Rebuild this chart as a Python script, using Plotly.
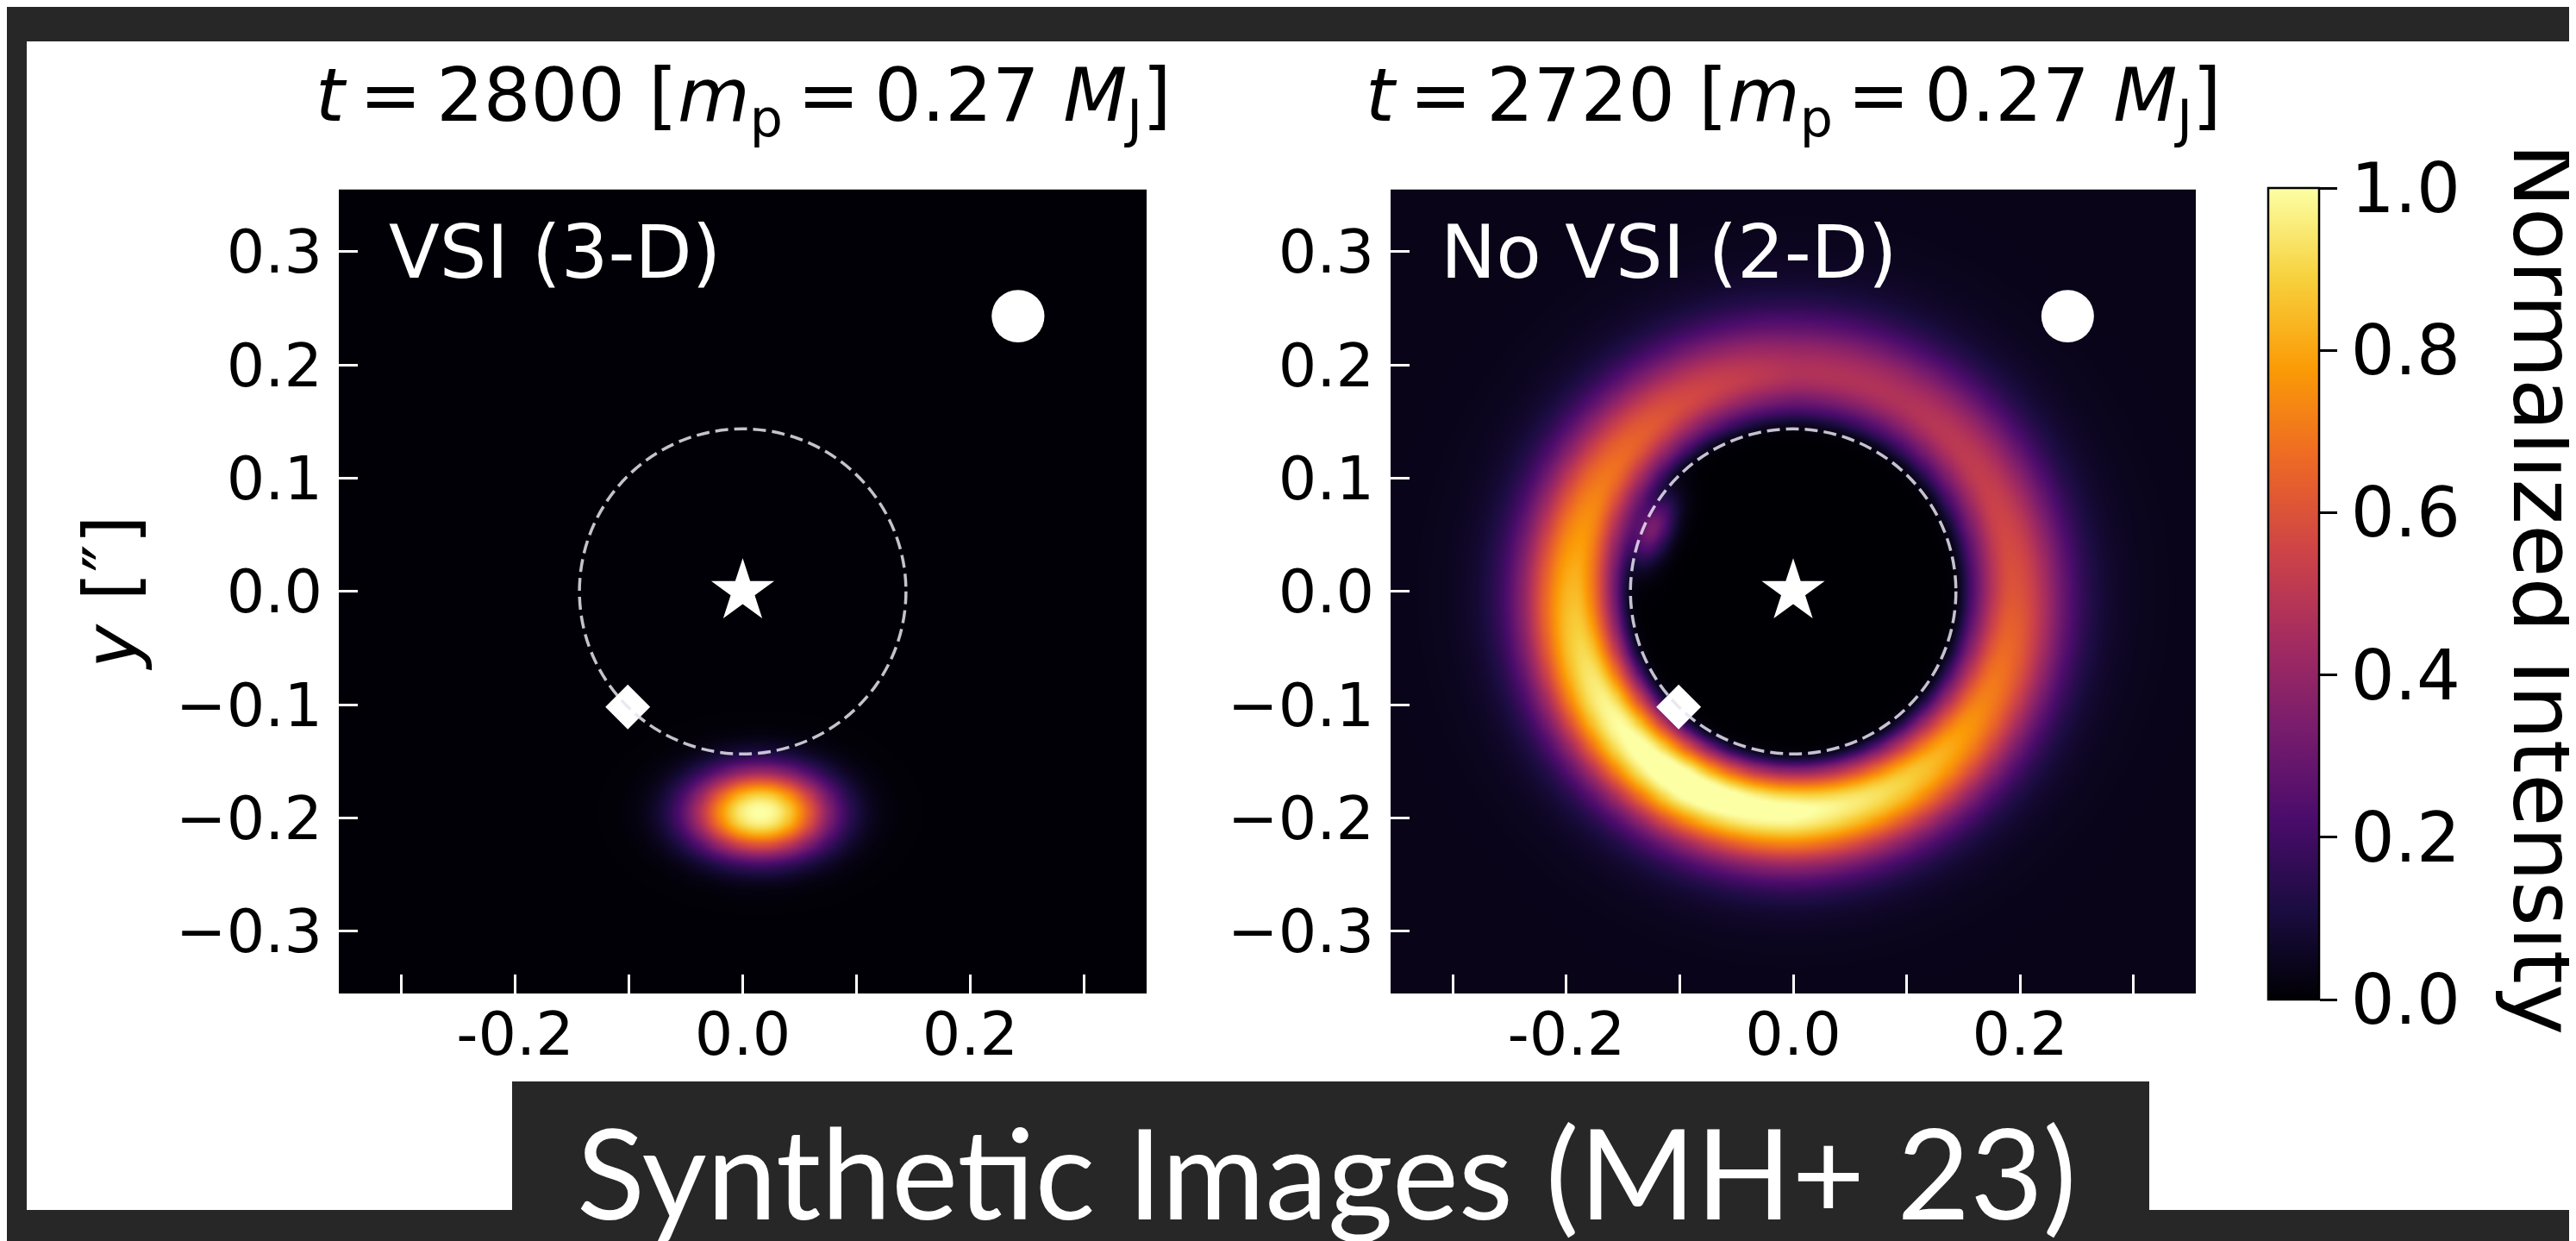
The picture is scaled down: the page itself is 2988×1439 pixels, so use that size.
import numpy as np
import plotly.graph_objects as go

W, H = 2988, 1439

# ---------------- values ----------------
TS = "\u2009"  # thin space, as in the mathtext titles
panel_titles = [
    f"<i>t</i>{TS}={TS}2800 [<i>m</i><sub>p</sub>{TS}={TS}0.27 <i>M</i><sub>J</sub>]",
    f"<i>t</i>{TS}={TS}2720 [<i>m</i><sub>p</sub>{TS}={TS}0.27 <i>M</i><sub>J</sub>]",
]
panel_labels = ["VSI (3-D)", "No VSI (2-D)"]
caption = "Synthetic Images (MH+ 23)"
y_title = "<i>y</i> [″]"
cbar_title = "Normalized Intensity"

tick_vals = [-0.3, -0.2, -0.1, 0.0, 0.1, 0.2, 0.3]
y_tick_text = ["−0.3", "−0.2", "−0.1", "0.0", "0.1", "0.2", "0.3"]
x_tick_text = ["", "-0.2", "", "0.0", "", "0.2", ""]
cbar_vals = [0.0, 0.2, 0.4, 0.6, 0.8, 1.0]
cbar_text = ["0.0", "0.2", "0.4", "0.6", "0.8", "1.0"]

star_xy = [0.0, 0.0]
planet_xy = [-0.101, -0.102]
beam_xy = [0.242, 0.243]
beam_radius = 0.0232
orbit_radius = 0.1435

# VSI (3-D): a single compact vortex
blob_center = [0.015, -0.195]
blob_semi_axes = [0.060, 0.038]
blob_shape_exp = 2.3
blob_peak = 1.0

# No VSI (2-D): ring brightness read at azimuths (deg, counter-clockwise from +x)
ring_azimuth_deg = [0, 30, 60, 90, 120, 150, 180, 210, 240, 270, 300, 330]
ring_peak = [0.53, 0.45, 0.40, 0.40, 0.50, 0.63, 0.77, 0.90, 1.00, 0.95, 0.82, 0.65]
ring_radius = 0.193
ring_width_in = 0.025
ring_width_out = 0.034
cavity_radius = 0.149
outer_floor = 0.035
# small inward spur of the ring at the inner edge (west-north-west)
bump_radius = 0.137
bump_azimuth_deg = 156
bump_peak = 0.34
bump_width_r = 0.012
bump_width_az_deg = 9

half_range = 0.355

# ---------------- image grids ----------------
g = np.linspace(-half_range, half_range, 301)
X, Y = np.meshgrid(g, g)
R = np.hypot(X, Y)
TH = np.degrees(np.arctan2(Y, X)) % 360

rn = np.hypot((X - blob_center[0]) / blob_semi_axes[0], (Y - blob_center[1]) / blob_semi_axes[1])
z_vsi = blob_peak * np.exp(-rn ** blob_shape_exp) + 0.004

amp = np.interp(TH, ring_azimuth_deg + [360], ring_peak + [ring_peak[0]])
dr = R - ring_radius
sig = np.where(dr < 0, ring_width_in, ring_width_out)
ring = amp * np.exp(-0.5 * (dr / sig) ** 2)
bg = outer_floor + 0.04 * np.exp(-((R - 0.21) / 0.09) ** 2)
mask = 1.0 / (1.0 + np.exp(-(R - cavity_radius) / 0.004))
daz = (TH - bump_azimuth_deg + 180) % 360 - 180
bump = bump_peak * np.exp(-0.5 * (((R - bump_radius) / bump_width_r) ** 2 + (daz / bump_width_az_deg) ** 2))
z_novsi = np.clip((ring + bg) * mask + bump * (1 - mask) + bump * 0.5 * mask, 0, 1)

FONT = "DejaVu Sans"

fig = go.Figure()
fig.add_trace(go.Heatmap(x=g, y=g, z=z_vsi, colorscale="Inferno", zmin=0, zmax=1,
                         zsmooth="best", showscale=False, hoverinfo="skip",
                         xaxis="x", yaxis="y"))
fig.add_trace(go.Heatmap(x=g, y=g, z=z_novsi, colorscale="Inferno", zmin=0, zmax=1,
                         zsmooth="best", hoverinfo="skip", xaxis="x2", yaxis="y2",
                         colorbar=dict(x=2623 / W, xanchor="left", xref="paper",
                                       y=1 - 680.5 / H, yanchor="middle", yref="paper",
                                       len=941 / H, lenmode="fraction",
                                       thickness=59, thicknessmode="pixels",
                                       xpad=0, ypad=0, outlinewidth=2.5, outlinecolor="black",
                                       ticks="outside", ticklen=20, tickwidth=2.5, tickcolor="black",
                                       tickvals=cbar_vals, ticktext=cbar_text,
                                       tickfont=dict(family=FONT, size=80, color="black"))))

for xa, ya in [("x", "y"), ("x2", "y2")]:
    fig.add_trace(go.Scatter(x=[star_xy[0]], y=[star_xy[1]], mode="markers", xaxis=xa, yaxis=ya,
                             marker=dict(symbol="star", size=55, color="white", line=dict(width=0)),
                             hoverinfo="skip", showlegend=False))
    fig.add_trace(go.Scatter(x=[planet_xy[0]], y=[planet_xy[1]], mode="markers", xaxis=xa, yaxis=ya,
                             marker=dict(symbol="diamond", size=40, color="white", line=dict(width=0)),
                             hoverinfo="skip", showlegend=False))

ydom = [1 - 1144 / H, 1 - 211.5 / H]
axis_common = dict(range=[-half_range, half_range], showgrid=False, zeroline=False, showline=False,
                   ticks="inside", ticklen=22, tickwidth=2.5, tickcolor="white",
                   tickvals=tick_vals, tickfont=dict(family=FONT, size=70, color="black"))

shapes = [
    dict(type="rect", xref="paper", yref="paper", x0=23 / W, x1=1.0, y0=1 - 1395 / H, y1=1 - 40 / H,
         fillcolor="white", line=dict(width=0), layer="below"),
    dict(type="rect", xref="paper", yref="paper", x0=586 / W, x1=2485 / W, y0=0, y1=1 - 1246 / H,
         fillcolor="#272727", line=dict(width=0), layer="below"),
]
for xa, ya in [("x", "y"), ("x2", "y2")]:
    shapes.append(dict(type="circle", xref=xa, yref=ya,
                       x0=star_xy[0] - orbit_radius, x1=star_xy[0] + orbit_radius,
                       y0=star_xy[1] - orbit_radius, y1=star_xy[1] + orbit_radius,
                       line=dict(color="rgba(232,228,240,0.85)", width=3.5, dash="15px,7px")))
    shapes.append(dict(type="circle", xref=xa, yref=ya,
                       x0=beam_xy[0] - beam_radius, x1=beam_xy[0] + beam_radius,
                       y0=beam_xy[1] - beam_radius, y1=beam_xy[1] + beam_radius,
                       fillcolor="white", line=dict(width=0)))

centers = [854 / W, 2072 / W]
lefts = [441 / W, 1661 / W]
annotations = []
for i in range(2):
    annotations.append(dict(text=panel_titles[i], x=centers[i], y=1 - 108 / H, xref="paper", yref="paper",
                            xanchor="center", yanchor="middle", showarrow=False,
                            font=dict(family=FONT, size=86, color="black")))
    annotations.append(dict(text=panel_labels[i], x=lefts[i], y=1 - 284 / H, xref="paper", yref="paper",
                            xanchor="left", yanchor="middle", showarrow=False,
                            font=dict(family=FONT, size=86, color="white")))
annotations.append(dict(text=y_title, x=120 / W, y=1 - 680 / H, xref="paper", yref="paper",
                        xanchor="center", yanchor="middle", textangle=-90, showarrow=False,
                        font=dict(family=FONT, size=86, color="black")))
annotations.append(dict(text=cbar_title, x=2943 / W, y=1 - 675 / H, xref="paper", yref="paper",
                        xanchor="center", yanchor="middle", textangle=90, showarrow=False,
                        font=dict(family=FONT, size=100, color="black")))
annotations.append(dict(text=caption, x=1531 / W, y=1 - 1349 / H, xref="paper", yref="paper",
                        xanchor="center", yanchor="middle", showarrow=False,
                        font=dict(family="Lato", size=146, color="white")))

fig.update_layout(
    width=W, height=H, margin=dict(l=0, r=0, t=0, b=0),
    paper_bgcolor="#272727", plot_bgcolor="rgba(0,0,0,0)", showlegend=False,
    xaxis=dict(domain=[385 / W, 1322 / W], anchor="y", ticktext=x_tick_text, ticklabelstandoff=0, **axis_common),
    yaxis=dict(domain=ydom, anchor="x", ticktext=y_tick_text, ticklabelstandoff=18, **axis_common),
    xaxis2=dict(domain=[1605 / W, 2539 / W], anchor="y2", ticktext=x_tick_text, ticklabelstandoff=0, **axis_common),
    yaxis2=dict(domain=ydom, anchor="x2", ticktext=y_tick_text, ticklabelstandoff=18, **axis_common),
    shapes=shapes, annotations=annotations,
)

fig.write_html("out.html")
